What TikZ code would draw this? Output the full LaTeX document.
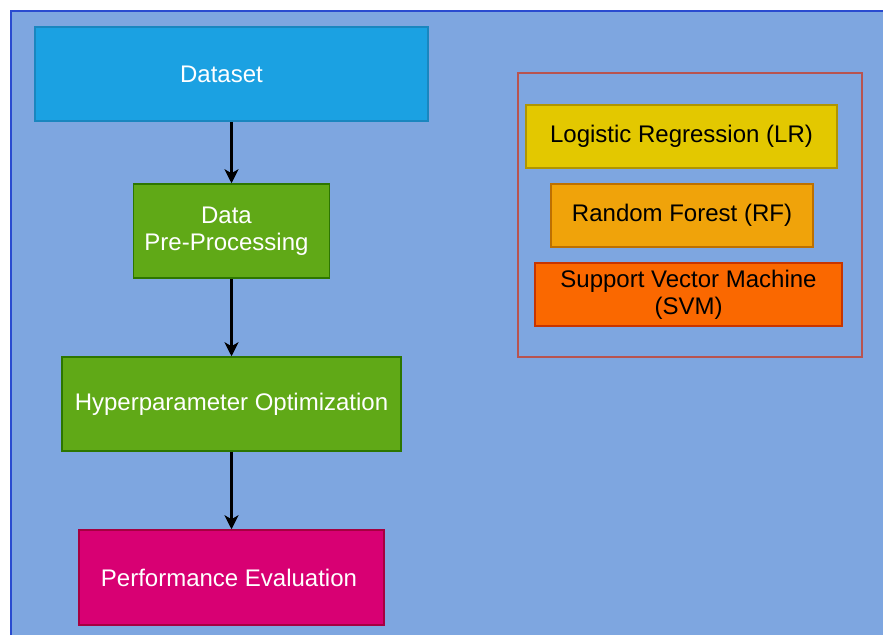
\documentclass[tikz,border=0pt]{standalone}
\usepackage{fontspec}
\setmainfont{Liberation Sans}
\usetikzlibrary{arrows.meta}
\definecolor{canvas}{HTML}{7EA6E0}
\definecolor{frameblue}{HTML}{2A4BD0}
\definecolor{dsfill}{HTML}{1BA1E2}\definecolor{dsline}{HTML}{1A86BF}
\definecolor{grfill}{HTML}{60A917}\definecolor{grline}{HTML}{2D7600}
\definecolor{pkfill}{HTML}{D80073}\definecolor{pkline}{HTML}{A50040}
\definecolor{ylfill}{HTML}{E3C800}\definecolor{ylline}{HTML}{B09500}
\definecolor{orfill}{HTML}{F0A30A}\definecolor{orline}{HTML}{BD7000}
\definecolor{rdfill}{HTML}{FA6800}\definecolor{rdline}{HTML}{C73500}
\definecolor{groupline}{HTML}{B85450}
\begin{document}
\begin{tikzpicture}[x=1pt,y=-1pt,
  box/.style={draw, line width=1.5pt, inner sep=0pt, align=center,
    font=\fontsize{24}{27}\selectfont},
  stage/.style={box, text=white},
  model/.style={box, text=black, minimum height=63pt},
  flow/.style={line width=2.4pt, -{Stealth[length=14pt,width=14pt,inset=4pt]}}]
\useasboundingbox (0,0) rectangle (883,635);
\fill[white] (0,0) rectangle (883,635);
\fill[canvas] (10.5,10.5) rectangle (883,635);
\draw[frameblue, line width=2pt] (10.5,635) -- (10.5,10.5) -- (883,10.5);

% processing pipeline
\node[stage, fill=dsfill, draw=dsline, minimum width=393pt, minimum height=94pt] (ds) at (231.5,74) {Dataset\hspace*{20pt}};
\node[stage, fill=grfill, draw=grline, minimum width=196pt, minimum height=94pt] (dpp) at (231.5,231) {Data\hspace*{10pt}\\Pre-Processing\hspace*{10pt}};
\node[stage, fill=grfill, draw=grline, minimum width=339pt, minimum height=94pt] (hpo) at (231.5,404) {Hyperparameter Optimization};
\node[stage, fill=pkfill, draw=pkline, minimum width=305pt, minimum height=95pt] (pe) at (231.5,577.5) {Performance Evaluation\hspace*{5pt}};

\draw[flow] (ds) -- (dpp);
\draw[flow] (dpp) -- (hpo);
\draw[flow] (hpo) -- (pe);

% classifiers
\node[draw=groupline, line width=1.6pt, minimum width=344pt, minimum height=284pt, inner sep=0pt] (models) at (690,215) {};
\node[model, fill=ylfill, draw=ylline, minimum width=311pt] (lr) at (681.5,136.5) {Logistic Regression (LR)};
\node[model, fill=orfill, draw=orline, minimum width=262pt] (rf) at (682,215.5) {Random Forest (RF)};
\node[model, fill=rdfill, draw=rdline, minimum width=307pt] (svm) at (688.5,294.5) {Support Vector Machine\\(SVM)};
\end{tikzpicture}
\end{document}
